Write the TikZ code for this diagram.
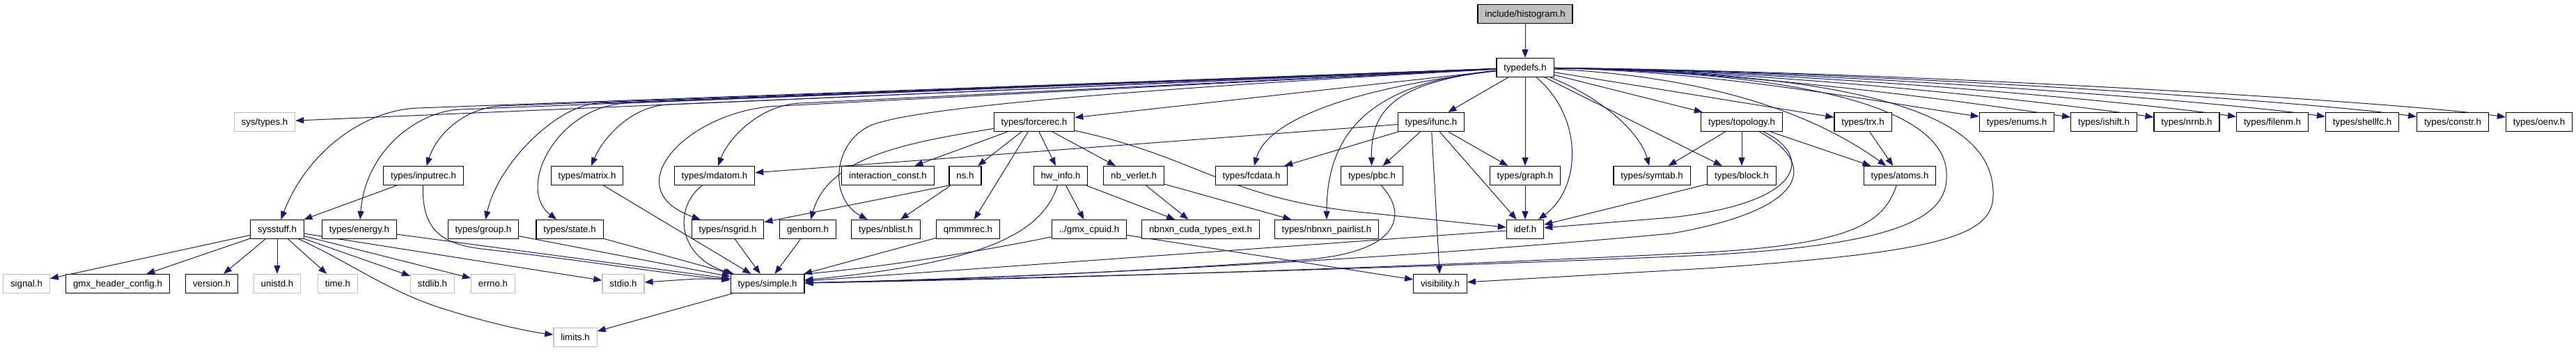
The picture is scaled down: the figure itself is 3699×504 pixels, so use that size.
\documentclass[tikz,border=0pt]{standalone}
\usepackage{fontspec}
\newfontfamily\hdrfont{Liberation Sans}
\usetikzlibrary{arrows.meta, backgrounds}
\definecolor{edgeblue}{RGB}{25,25,112}
\definecolor{sysgray}{RGB}{191,191,191}
\tikzstyle{hdr}=[draw=black, fill=white, rectangle, line width=1.2pt, minimum height=27pt, inner xsep=10.4pt, text height=10.5pt, text depth=2pt, font=\hdrfont\fontsize{13.3pt}{15pt}\selectfont]
\tikzstyle{syshdr}=[hdr, draw=sysgray]
\tikzstyle{tophdr}=[hdr, fill=sysgray]
\tikzstyle{dep}=[->, draw=edgeblue, line width=1pt]

\begin{document}
\begin{tikzpicture}[x=1pt, y=-1pt, >={Triangle[length=12pt,width=9pt]}]
    \useasboundingbox (0,0) rectangle (3699,504);
    \node[tophdr] (hist) at (2190,20) {include/histogram.h};
    \node[hdr] (typedefs) at (2190,97) {typedefs.h};
    \node[syshdr] (systypes) at (380,175) {sys/types.h};
    \node[hdr] (forcerec) at (1485,175) {types/forcerec.h};
    \node[hdr] (ifunc) at (2055,175) {types/ifunc.h};
    \node[hdr] (topology) at (2501,175) {types/topology.h};
    \node[hdr] (trx) at (2675,175) {types/trx.h};
    \node[hdr] (enums) at (2896,175) {types/enums.h};
    \node[hdr] (ishift) at (3021,175) {types/ishift.h};
    \node[hdr] (nrnb) at (3140,175) {types/nrnb.h};
    \node[hdr] (filenm) at (3263,175) {types/filenm.h};
    \node[hdr] (shellfc) at (3392,175) {types/shellfc.h};
    \node[hdr] (constr) at (3522,175) {types/constr.h};
    \node[hdr] (oenv) at (3646,175) {types/oenv.h};
    \node[hdr] (inputrec) at (608,252) {types/inputrec.h};
    \node[hdr] (matrix) at (843,252) {types/matrix.h};
    \node[hdr] (mdatom) at (1026,252) {types/mdatom.h};
    \node[hdr] (iconst) at (1275,252) {interaction\_const.h};
    \node[hdr] (ns) at (1386,252) {ns.h};
    \node[hdr] (hwinfo) at (1523,252) {hw\_info.h};
    \node[hdr] (nbverlet) at (1628,252) {nb\_verlet.h};
    \node[hdr] (fcdata) at (1797,252) {types/fcdata.h};
    \node[hdr] (pbc) at (1970,252) {types/pbc.h};
    \node[hdr] (graph) at (2190,252) {types/graph.h};
    \node[hdr] (symtab) at (2372,252) {types/symtab.h};
    \node[hdr] (block) at (2501,252) {types/block.h};
    \node[hdr] (atoms) at (2728,252) {types/atoms.h};
    \node[hdr] (sysstuff) at (398,329) {sysstuff.h};
    \node[hdr] (energy) at (516,329) {types/energy.h};
    \node[hdr] (group) at (694,329) {types/group.h};
    \node[hdr] (state) at (818,329) {types/state.h};
    \node[hdr] (nsgrid) at (1045,329) {types/nsgrid.h};
    \node[hdr] (genborn) at (1160,329) {genborn.h};
    \node[hdr] (nblist) at (1272,329) {types/nblist.h};
    \node[hdr] (qmmmrec) at (1390,329) {qmmmrec.h};
    \node[hdr] (cpuid) at (1564,329) {../gmx\_cpuid.h};
    \node[hdr] (cudatypes) at (1724,329) {nbnxn\_cuda\_types\_ext.h};
    \node[hdr] (pairlist) at (1905,329) {types/nbnxn\_pairlist.h};
    \node[hdr] (idef) at (2190,329) {idef.h};
    \node[syshdr] (signal) at (38,407) {signal.h};
    \node[hdr] (hdrconfig) at (169,407) {gmx\_header\_config.h};
    \node[hdr] (version) at (304,407) {version.h};
    \node[syshdr] (unistd) at (398,407) {unistd.h};
    \node[syshdr] (time) at (485,407) {time.h};
    \node[syshdr] (stdlib) at (621,407) {stdlib.h};
    \node[syshdr] (errno) at (708,407) {errno.h};
    \node[syshdr] (stdio) at (895,407) {stdio.h};
    \node[hdr] (simple) at (1102,407) {types/simple.h};
    \node[hdr] (visibility) at (2068,407) {visibility.h};
    \node[syshdr] (limits) at (826,484) {limits.h};

    \begin{scope}[on background layer]
    \draw[dep] (hist) -- (typedefs);
    \draw[dep] (typedefs) -- (systypes);
    \draw[dep] (typedefs) -- (600,155) .. controls (520,158) and (440,220) .. (sysstuff);
    \draw[dep] (typedefs) -- (660,157) .. controls (600,160) and (525,215) .. (energy);
    \draw[dep] (typedefs) -- (720,152) .. controls (670,154) and (628,190) .. (inputrec);
    \draw[dep] (typedefs) -- (860,148) .. controls (800,150) and (715,235) .. (group);
    \draw[dep] (typedefs) -- (900,148) .. controls (800,152) and (740,270) .. (state);
    \draw[dep] (typedefs) -- (960,150) .. controls (905,152) and (865,200) .. (matrix);
    \draw[dep] (typedefs) -- (1150,148) .. controls (1090,150) and (1045,200) .. (mdatom);
    \draw[dep] (typedefs) -- (1120,152) .. controls (990,156) and (880,270) .. (nsgrid);
    \draw[dep] (typedefs) .. controls (1500,135) and (1300,160) .. (1250,180) .. controls (1195,205) and (1190,285) .. (nblist);
    \draw[dep] (typedefs) -- (forcerec);
    \draw[dep] (typedefs) .. controls (1950,125) and (1820,170) .. (fcdata);
    \draw[dep] (typedefs) .. controls (2000,118) and (1968,160) .. (pbc);
    \draw[dep] (typedefs) .. controls (1980,118) and (1905,180) .. (pairlist);
    \draw[dep] (typedefs) -- (ifunc);
    \draw[dep] (typedefs) -- (graph);
    \draw[dep] (typedefs) .. controls (2275,170) and (2270,270) .. (idef);
    \draw[dep] (typedefs) .. controls (2300,140) and (2355,190) .. (symtab);
    \draw[dep] (typedefs) -- (block);
    \draw[dep] (typedefs) -- (topology);
    \draw[dep] (typedefs) -- (trx);
    \draw[dep] (typedefs) .. controls (2450,110) and (2600,160) .. (atoms);
    \foreach \dst/\cx in {enums/2896, ishift/3021, nrnb/3140, filenm/3263, shellfc/3392, constr/3522, oenv/3646}
        \draw[dep] (typedefs) .. controls ({2232+(\cx-2232)*0.35},102) and ({\cx-200},146) .. (\dst);
    \draw[dep] (typedefs) .. controls (2650,105) and (2800,170) .. (2795,255) .. controls (2795,320) and (2700,352) .. (2450,366) .. controls (1900,390) and (1400,400) .. (simple);
    \draw[dep] (typedefs) .. controls (2700,105) and (2865,170) .. (2862,280) .. controls (2862,340) and (2780,362) .. (2450,385) -- (visibility);

    \foreach \dst in {signal, hdrconfig, version, unistd, time, stdlib, errno, stdio}
        \draw[dep] (sysstuff) -- (\dst);
    \draw[dep] (sysstuff) .. controls (500,375) and (560,420) .. (640,444) .. controls (700,463) and (760,476) .. (limits);
    \draw[dep] (inputrec) -- (sysstuff);
    \draw[dep] (inputrec) .. controls (605,335) and (640,352) .. (700,358) .. controls (850,375) and (950,392) .. (simple);
    \foreach \src in {energy, group, state, matrix, nsgrid, genborn, qmmmrec, idef}
        \draw[dep] (\src) -- (simple);
    \draw[dep] (mdatom) .. controls (965,300) and (975,370) .. (simple);
    \draw[dep] (simple) -- (limits);

    \foreach \dst in {iconst, ns, qmmmrec, hwinfo, nbverlet}
        \draw[dep] (forcerec) -- (\dst);
    \draw[dep] (forcerec) .. controls (1300,205) and (1190,225) .. (genborn);
    \draw[dep] (forcerec) .. controls (1720,225) and (1760,285) .. (1960,305) -- (idef);
    \draw[dep] (ns.south west) -- (nsgrid);
    \draw[dep] (ns) -- (nblist);
    \draw[dep] (hwinfo) -- (cpuid);
    \draw[dep] (hwinfo) -- (cudatypes);
    \draw[dep] (hwinfo) .. controls (1495,340) and (1400,378) .. (simple);
    \draw[dep] (nbverlet) -- (cudatypes);
    \draw[dep] (nbverlet) -- (pairlist);
    \draw[dep] (cpuid) -- (visibility);
    \draw[dep] (cpuid) .. controls (1350,372) and (1150,402) .. (1000,400) -- (stdio);

    \foreach \dst in {mdatom, fcdata, pbc, graph, idef, visibility}
        \draw[dep] (ifunc) -- (\dst);
    \draw[dep] (pbc) .. controls (2020,305) and (2015,360) .. (1880,372) .. controls (1600,392) and (1350,402) .. (simple);
    \draw[dep] (graph) -- (idef);
    \draw[dep] (block) -- (idef);
    \foreach \dst in {symtab, block, atoms}
        \draw[dep] (topology) -- (\dst);
    \draw[dep] (topology) .. controls (2600,220) and (2600,290) .. (2400,312) -- (idef);
    \draw[dep] (topology) .. controls (2610,235) and (2600,300) .. (2400,335) .. controls (2000,372) and (1500,398) .. (simple);
    \draw[dep] (trx) -- (atoms);
    \draw[dep] (atoms) .. controls (2705,320) and (2660,350) .. (2450,362) .. controls (2000,385) and (1500,400) .. (simple);
    \end{scope}
\end{tikzpicture}
\end{document}
